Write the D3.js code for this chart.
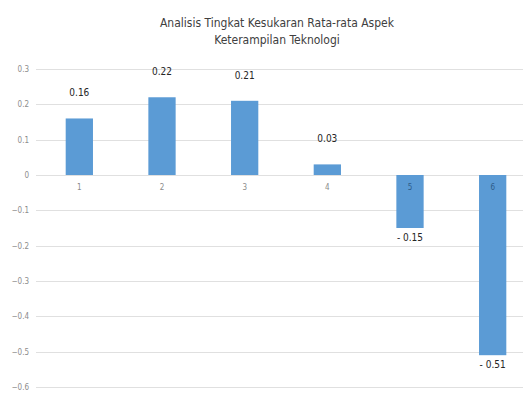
<!DOCTYPE html>
<html>
<head>
<meta charset="utf-8">
<script src="https://cdn.jsdelivr.net/npm/d3@7"></script>
<style>
  body { margin: 0; background: #fff; }
  svg { display: block; }
  text { font-family: "Liberation Sans Narrow", "DejaVu Sans Condensed", "Liberation Sans", sans-serif; }
</style>
</head>
<body>
<div id="chart"></div>
<script>
  /* data */
  var categories = ["1", "2", "3", "4", "5", "6"]
  var values = [0.16, 0.22, 0.21, 0.03, -0.15, -0.51]
  var valueLabels = ["0.16", "0.22", "0.21", "0.03", "- 0.15", "- 0.51"]
  var yTicks = [0.3, 0.2, 0.1, 0, -0.1, -0.2, -0.3, -0.4, -0.5, -0.6]
  var titleLines = ["Analisis Tingkat Kesukaran Rata-rata Aspek", "Keterampilan Teknologi"]

  var w = 523
  var h = 393

  var svg = d3.select("#chart")
      .append("svg")
      .attr("width", w)
      .attr("height", h)

  var x = d3.scaleBand()
      .domain(categories)
      .range([38, 534])
      .paddingInner(0.67)
      .paddingOuter(0.335)

  var y = d3.scaleLinear()
      .domain([-0.6, 0.3])
      .range([387, 69])

  /* grid */
  svg.append("g")
      .selectAll("line")
      .data(yTicks)
      .enter()
      .append("line")
      .attr("x1", 36)
      .attr("x2", w)
      .attr("y1", function (d) { return Math.round(y(d)) + 0.5 })
      .attr("y2", function (d) { return Math.round(y(d)) + 0.5 })
      .attr("stroke", "#e0e0e0")
      .attr("stroke-width", 1)

  /* y axis labels (no domain line) */
  var yAxis = d3.axisLeft(y)
      .tickValues(yTicks)
      .tickSize(0)
      .tickPadding(0)
      .tickFormat(function (d) { return d === 0 ? "0" : d3.format(".1f")(d) })

  var ya = svg.append("g")
      .attr("transform", "translate(29,0)")
      .call(yAxis)
  ya.select(".domain").remove()
  ya.selectAll("text")
      .attr("fill", "#8c8c8c")
      .style("font-size", "8px")
      .style("font-family", "\"Liberation Sans Narrow\", \"DejaVu Sans Condensed\", sans-serif")

  /* bars */
  svg.selectAll("rect.bar")
      .data(values)
      .enter()
      .append("rect")
      .attr("class", "bar")
      .attr("x", function (d, i) { return x(categories[i]) })
      .attr("width", x.bandwidth())
      .attr("y", function (d) { return y(Math.max(0, d)) })
      .attr("height", function (d) { return Math.abs(y(d) - y(0)) })
      .attr("fill", "#5b9bd5")

  /* category labels just under zero */
  svg.selectAll("text.cat")
      .data(categories)
      .enter()
      .append("text")
      .attr("class", "cat")
      .attr("x", function (d) { return x(d) + x.bandwidth() / 2 })
      .attr("y", y(0) + 15)
      .attr("text-anchor", "middle")
      .attr("fill", function (d, i) { return values[i] < 0 ? "#2e5c8a" : "#8c8c8c" })
      .style("font-size", "8px")
      .text(function (d) { return d })

  /* value labels */
  svg.selectAll("text.val")
      .data(values)
      .enter()
      .append("text")
      .attr("class", "val")
      .attr("x", function (d, i) { return x(categories[i]) + x.bandwidth() / 2 })
      .attr("y", function (d) { return d >= 0 ? y(d) - 22 : y(d) + 13 })
      .attr("text-anchor", "middle")
      .attr("fill", "#262626")
      .style("font-size", "10px")
      .text(function (d, i) { return valueLabels[i] })

  /* title */
  svg.selectAll("text.title")
      .data(titleLines)
      .enter()
      .append("text")
      .attr("class", "title")
      .attr("x", 277)
      .attr("y", function (d, i) { return 27 + i * 17 })
      .attr("text-anchor", "middle")
      .attr("fill", "#404040")
      .style("font-size", "12px")
      .text(function (d) { return d })
</script>
</body>
</html>
